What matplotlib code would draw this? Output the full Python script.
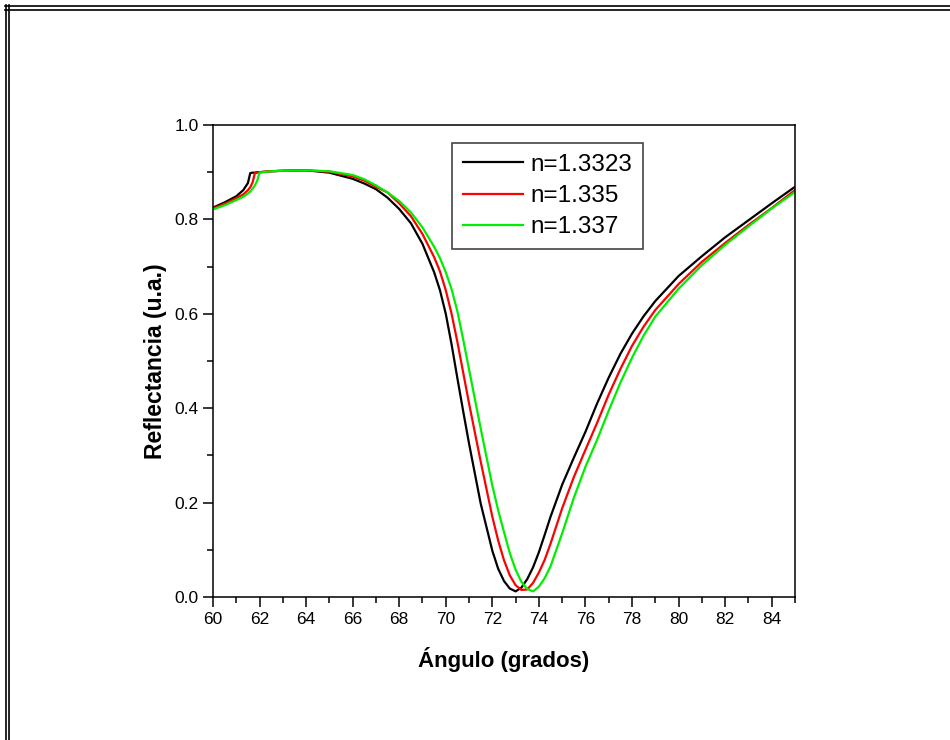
import matplotlib
matplotlib.use("Agg")
import matplotlib.pyplot as plt
from matplotlib.lines import Line2D
from matplotlib.ticker import MultipleLocator, FormatStrFormatter

plt.rcParams['font.family'] = ['Liberation Sans', 'DejaVu Sans']

# angle grid (degrees)
angles = [60, 60.5, 61, 61.3, 61.5, 61.6, 61.7, 61.8, 61.9, 62,
          62.5, 63, 64, 65, 66, 66.5, 67, 67.5, 68, 68.5,
          69, 69.5, 69.75, 70, 70.25, 70.5, 70.75, 71, 71.5, 72,
          72.25, 72.5, 72.75, 73, 73.25, 73.5, 73.75, 74, 74.25, 74.5,
          75, 75.5, 76, 76.5, 77, 77.5, 78, 78.5, 79, 80,
          81, 82, 83, 84, 85]

refl_13323 = [0.825, 0.836, 0.849, 0.862, 0.877, 0.898, 0.899, 0.899, 0.900, 0.900,
              0.902, 0.903, 0.904, 0.899, 0.886, 0.876, 0.864, 0.846, 0.822, 0.792,
              0.748, 0.688, 0.650, 0.600, 0.535, 0.463, 0.393, 0.325, 0.198, 0.098,
              0.060, 0.034, 0.018, 0.012, 0.020, 0.038, 0.063, 0.095, 0.132, 0.170,
              0.238, 0.295, 0.350, 0.410, 0.465, 0.515, 0.558, 0.595, 0.627, 0.680,
              0.722, 0.762, 0.798, 0.834, 0.869]

refl_1335 = [0.823, 0.833, 0.845, 0.853, 0.862, 0.868, 0.878, 0.898, 0.899, 0.900,
             0.902, 0.903, 0.904, 0.901, 0.891, 0.882, 0.869, 0.857, 0.834, 0.807,
             0.769, 0.720, 0.690, 0.650, 0.600, 0.540, 0.475, 0.410, 0.287, 0.170,
             0.120, 0.078, 0.046, 0.025, 0.015, 0.016, 0.030, 0.052, 0.079, 0.113,
             0.188, 0.254, 0.312, 0.369, 0.429, 0.483, 0.532, 0.573, 0.608, 0.663,
             0.710, 0.750, 0.788, 0.824, 0.862]

refl_1337 = [0.821, 0.830, 0.841, 0.848, 0.855, 0.859, 0.865, 0.872, 0.882, 0.899,
             0.902, 0.903, 0.904, 0.902, 0.894, 0.885, 0.872, 0.857, 0.839, 0.815,
             0.783, 0.742, 0.718, 0.688, 0.652, 0.605, 0.545, 0.482, 0.357, 0.236,
             0.184, 0.138, 0.093, 0.058, 0.032, 0.017, 0.012, 0.022, 0.040, 0.065,
             0.135, 0.210, 0.276, 0.333, 0.395, 0.454, 0.507, 0.554, 0.594, 0.653,
             0.703, 0.746, 0.785, 0.823, 0.858]

labels = ["n=1.3323", "n=1.335", "n=1.337"]
colors = ["black", "#ff0000", "#00ee00"]

fig = plt.figure(figsize=(9.5, 7.4), dpi=100)
ax = fig.add_axes([0.2242, 0.1932, 0.6126, 0.6379])

for refl, lab, col in zip([refl_13323, refl_1335, refl_1337], labels, colors):
    ax.plot(angles, refl, color=col, lw=1.6, label=lab)

ax.set_xlim(60, 85)
ax.set_ylim(0.0, 1.0)
ax.xaxis.set_major_locator(MultipleLocator(2))
ax.xaxis.set_minor_locator(MultipleLocator(1))
ax.yaxis.set_major_locator(MultipleLocator(0.2))
ax.yaxis.set_minor_locator(MultipleLocator(0.1))
ax.yaxis.set_major_formatter(FormatStrFormatter('%.1f'))
ax.tick_params(which='major', direction='out', length=7, width=1.1,
               labelsize=12.5, top=False, right=False)
ax.tick_params(which='minor', direction='out', length=4, width=1.1,
               top=False, right=False)
for sp in ax.spines.values():
    sp.set_linewidth(1.1)

ax.set_xlabel("Ángulo (grados)", fontsize=16, fontweight='bold', labelpad=15)
ax.set_ylabel("Reflectancia (u.a.)", fontsize=16.5, fontweight='bold', labelpad=5)

leg = ax.legend(loc='upper left', bbox_to_anchor=(0.41, 0.962), borderaxespad=0,
                fontsize=17.5, handlelength=2.5, handletextpad=0.3,
                labelspacing=0.38, fancybox=False, framealpha=1,
                borderpad=0.45)
leg.get_frame().set_edgecolor('#444444')
leg.get_frame().set_linewidth(1.2)

# double frame lines on top and left of the page
W, H = 950.0, 740.0
for y in (6.0, 10.0):
    fig.add_artist(Line2D([5.0 / W, 1.0], [1 - y / H, 1 - y / H],
                          transform=fig.transFigure, color='black', lw=1.2))
for x in (5.5, 9.0):
    fig.add_artist(Line2D([x / W, x / W], [0.0, 1 - 5.0 / H],
                          transform=fig.transFigure, color='black', lw=1.2))

fig.savefig("out.png", dpi=100)
